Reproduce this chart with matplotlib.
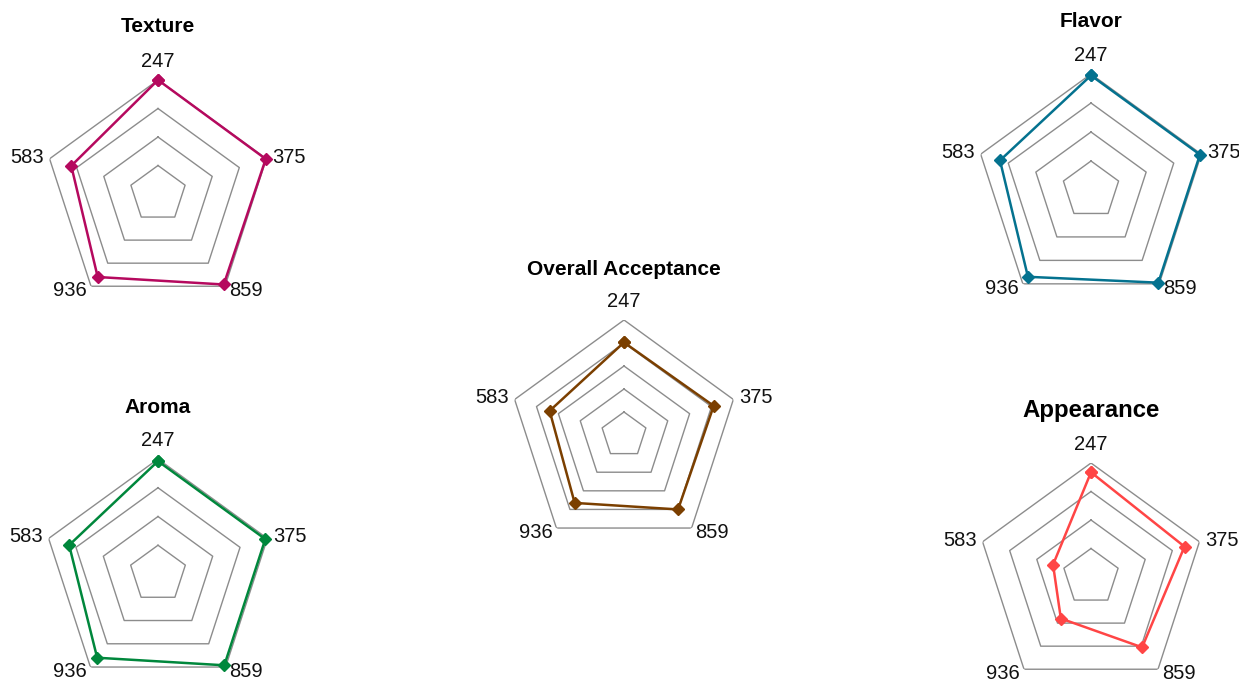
import numpy as np
import matplotlib.pyplot as plt

plt.rcParams['font.family'] = ['Liberation Sans', 'DejaVu Sans']

W, H = 1239, 681

samples = ['247', '375', '859', '936', '583']

texture = [8.0, 7.95, 7.85, 7.2, 6.4]
flavor = [7.9, 7.9, 7.9, 7.4, 6.6]
aroma = [7.85, 7.85, 7.85, 7.2, 6.5]
overall = [8.05, 8.2, 8.0, 7.3, 6.8]
appearance = [7.35, 6.9, 6.1, 3.6, 2.8]

rings_4 = [2, 4, 6, 8]
rings_5 = [2, 4, 6, 8, 10]

# (title, values, color, rings, centre px, radius px, title baseline px, title size)
panels = [
    ('Texture', texture, '#B5095E', rings_4, (158, 194), 114, 32, 15),
    ('Flavor', flavor, '#04728F', rings_4, (1091, 190), 116, 27, 15),
    ('Aroma', aroma, '#00873C', rings_4, (158, 574), 115, 413, 15),
    ('Overall Acceptance', overall, '#7B3F00', rings_5, (624, 435), 115, 275, 15),
    ('Appearance', appearance, '#FF4545', rings_4, (1091, 577), 114, 417, 17.3),
]

# label offsets in pixels from the outer vertex
label_pos = {
    '247': ((0, 13), 'center'),
    '375': ((6, -4), 'left'),
    '859': ((4, -10), 'left'),
    '936': ((-4, -10), 'right'),
    '583': ((-6, -4), 'right'),
}

theta = np.deg2rad(np.arange(len(samples)) * 72.0)
theta_c = np.append(theta, theta[0])

fig = plt.figure(figsize=(W / 100, H / 100), dpi=100)

for title, vals, color, rings, (cx, cy), R, tb, tsize in panels:
    ax = fig.add_axes([(cx - R) / W, 1 - (cy + R) / H, 2 * R / W, 2 * R / H],
                      projection='polar')
    ax.set_theta_zero_location('N')
    ax.set_theta_direction(-1)
    ax.set_ylim(0, rings[-1])
    ax.grid(False)
    ax.spines['polar'].set_visible(False)
    ax.set_xticks([])
    ax.set_yticks([])
    ax.patch.set_alpha(0)

    for r in rings:
        ax.plot(theta_c, [r] * len(theta_c), color='#8c8c8c', lw=1.0, zorder=1)

    v = np.append(vals, vals[0])
    ax.plot(theta_c, v, color=color, lw=1.8, marker='D', markersize=6.5,
            zorder=3, clip_on=False)

    for t, s in zip(theta, samples):
        off, ha = label_pos[s]
        ax.annotate(s, xy=(t, rings[-1]), xytext=off, textcoords='offset pixels',
                    ha=ha, va='baseline', fontsize=14.5, color='#111111')

    fig.text(cx / W, 1 - tb / H, title, ha='center', va='baseline',
             fontsize=tsize, fontweight='bold', color='#000000')

fig.savefig('out.png', dpi=100, facecolor='white')
